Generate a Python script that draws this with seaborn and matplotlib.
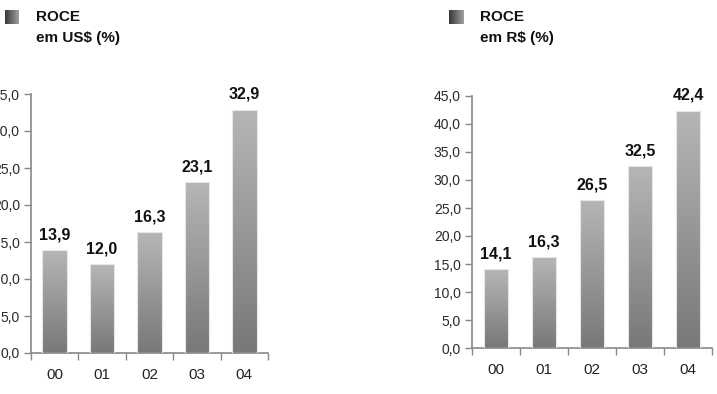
import numpy as np
import pandas as pd
import matplotlib
matplotlib.use("Agg")
import matplotlib.pyplot as plt
from matplotlib.ticker import FuncFormatter, FixedLocator, NullFormatter
from matplotlib.colors import LinearSegmentedColormap
import seaborn as sns

# Data
years = ["00", "01", "02", "03", "04"]
roce_usd = [13.9, 12.0, 16.3, 23.1, 32.9]
roce_brl = [14.1, 16.3, 26.5, 32.5, 42.4]
titles = [("ROCE", "em US$ (%)"), ("ROCE", "em R$ (%)")]

sns.set_theme(style="white")
plt.rcParams["font.family"] = ["Liberation Sans", "DejaVu Sans"]

bar_cmap = LinearSegmentedColormap.from_list("bar", ["#787878", "#b6b6b6"])
key_cmap = LinearSegmentedColormap.from_list("key", ["#383838", "#a0a0a0"])

fig = plt.figure(figsize=(7.17, 3.94), dpi=100)
fig.patch.set_facecolor("white")


def comma(v, _pos):
    return f"{v:.1f}".replace(".", ",")


def draw_panel(rect, values, ymax, step):
    ax = fig.add_axes(rect)
    df = pd.DataFrame({"ano": years, "valor": values})
    sns.barplot(data=df, x="ano", y="valor", ax=ax, width=0.52,
                color="#999999", saturation=1)
    grad = np.linspace(0, 1, 256).reshape(-1, 1)
    for patch in ax.patches:
        x0, y0 = patch.get_x(), patch.get_y()
        w, h = patch.get_width(), patch.get_height()
        im = ax.imshow(grad, cmap=bar_cmap, aspect="auto", origin="lower",
                       extent=(x0, x0 + w, y0, y0 + h), zorder=2)
        im.set_clip_path(patch)
        patch.set_facecolor("none")
        patch.set_edgecolor("#e6e6e6")
        patch.set_linewidth(0.8)
        patch.set_zorder(3)
        ax.text(x0 + w / 2, y0 + h + ymax * 0.03, comma(h, None),
                ha="center", va="bottom", fontsize=11.5, fontweight="bold",
                color="#111111")
    ax.set_xlim(-0.5, len(years) - 0.5)
    ax.set_ylim(0, ymax)
    ax.set_xlabel("")
    ax.set_ylabel("")
    ax.yaxis.set_major_locator(FixedLocator(np.arange(0, ymax + 0.01, step)))
    ax.yaxis.set_major_formatter(FuncFormatter(comma))
    ax.xaxis.set_major_locator(FixedLocator(np.arange(-0.5, len(years), 1)))
    ax.xaxis.set_major_formatter(NullFormatter())
    ax.xaxis.set_minor_locator(FixedLocator(np.arange(len(years))))
    ax.set_xticklabels(years, minor=True)
    ax.tick_params(axis="x", which="major", length=5, width=1,
                   color="#888888", direction="out", bottom=True)
    ax.tick_params(axis="x", which="minor", length=0, pad=11,
                   labelsize=11, labelcolor="#222222", bottom=True)
    ax.tick_params(axis="y", length=5, width=1, color="#888888",
                   direction="out", left=True, labelsize=10,
                   labelcolor="#2a2a2a", pad=3)
    for side in ("top", "right"):
        ax.spines[side].set_visible(False)
    for side in ("left", "bottom"):
        ax.spines[side].set_color("#888888")
        ax.spines[side].set_linewidth(1.2)
    ax.set_facecolor("white")
    return ax


def draw_key(x_sq, x_txt, lines):
    kax = fig.add_axes([x_sq / 717, 1 - 24 / 394, 14 / 717, 14 / 394])
    kax.imshow(np.linspace(0, 1, 64).reshape(1, -1), cmap=key_cmap,
               aspect="auto")
    kax.set_axis_off()
    fig.text(x_txt / 717, 1 - 17 / 394, lines[0], fontsize=11,
             fontweight="bold", va="center", ha="left", color="#111111")
    fig.text(x_txt / 717, 1 - 38 / 394, lines[1], fontsize=11,
             fontweight="bold", va="center", ha="left", color="#111111")


draw_panel([31 / 717, 1 - 353 / 394, 237 / 717, 259 / 394],
           roce_usd, 35, 5)
draw_panel([472 / 717, 1 - 348 / 394, 240 / 717, 252 / 394],
           roce_brl, 45, 5)

draw_key(5, 36, titles[0])
draw_key(449, 480, titles[1])

fig.savefig("out.png", dpi=100, facecolor="white")
